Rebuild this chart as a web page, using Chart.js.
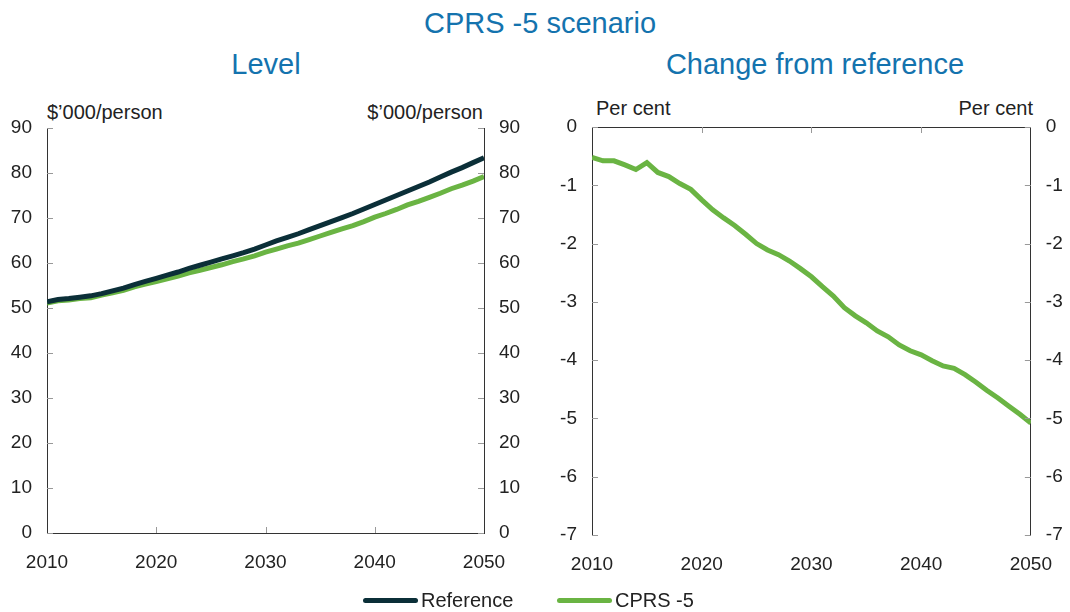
<!DOCTYPE html>
<html lang="en">
<head>
  <meta charset="UTF-8" />
  <title>CPRS -5 scenario</title>
  <script src="https://cdn.jsdelivr.net/npm/chart.js"></script>
  <style>
    body { margin: 0; width: 1070px; height: 612px; background: #fff; position: relative; overflow: hidden;
           font-family: 'Liberation Sans', Arial, sans-serif; color: #222; }
    canvas { position: absolute; top: 0; }
    .t { position: absolute; line-height: 1; white-space: nowrap; }
    .title { font-size: 29px; color: #1473ae; }
    .unit { font-size: 20px; }
    .legend { position: absolute; top: 590px; font-size: 20px; line-height: 1; display: flex; align-items: center; }
    .sw { display: inline-block; width: 55px; height: 5px; border-radius: 3px; margin-right: 3px; }
  </style>
</head>
<body>
  <div class="t title" style="left:0; width:1080px; text-align:center; top:9px;">CPRS -5 scenario</div>
  <div class="t title" style="left:166px; width:200px; text-align:center; top:50px;">Level</div>
  <div class="t title" style="left:615px; width:400px; text-align:center; top:50px;">Change from reference</div>

  <div class="t unit" style="left:47px; top:102px;">$’000/person</div>
  <div class="t unit" style="right:587px; top:102px;">$’000/person</div>
  <div class="t unit" style="left:596px; top:98px;">Per cent</div>
  <div class="t unit" style="right:37px; top:98px;">Per cent</div>

  <canvas id="levelChart" width="535" height="612" style="left:0"></canvas>
  <canvas id="changeChart" width="535" height="612" style="left:535px"></canvas>

  <div class="legend" style="left:363px;"><span class="sw" style="background:#0b2f38"></span>Reference</div>
  <div class="legend" style="left:557px;"><span class="sw" style="background:#6ab443"></span>CPRS -5</div>

  <script>
    const years = [2010, 2011, 2012, 2013, 2014, 2015, 2016, 2017, 2018, 2019,
                   2020, 2021, 2022, 2023, 2024, 2025, 2026, 2027, 2028, 2029,
                   2030, 2031, 2032, 2033, 2034, 2035, 2036, 2037, 2038, 2039,
                   2040, 2041, 2042, 2043, 2044, 2045, 2046, 2047, 2048, 2049, 2050];

    // $'000 per person
    const reference = [51.4, 51.9, 52.1, 52.4, 52.7, 53.2, 53.8, 54.4, 55.2, 55.9,
                       56.6, 57.3, 58.0, 58.8, 59.5, 60.2, 60.9, 61.6, 62.3, 63.1,
                       64.0, 64.9, 65.7, 66.5, 67.4, 68.3, 69.2, 70.1, 71.0, 72.0,
                       73.0, 74.0, 75.0, 76.0, 77.0, 78.0, 79.1, 80.2, 81.2, 82.3, 83.4];
    const cprs5 = [51.1, 51.6, 51.8, 52.1, 52.3, 52.9, 53.4, 53.9, 54.7, 55.3,
                   55.9, 56.5, 57.1, 57.8, 58.4, 59.0, 59.6, 60.3, 60.9, 61.6,
                   62.4, 63.1, 63.8, 64.4, 65.2, 66.0, 66.8, 67.6, 68.3, 69.2,
                   70.2, 71.0, 71.9, 72.9, 73.7, 74.6, 75.5, 76.5, 77.3, 78.2, 79.2];

    // per cent change from reference
    const change = [-0.52, -0.58, -0.58, -0.65, -0.73, -0.61, -0.78, -0.85, -0.97, -1.07,
                    -1.25, -1.42, -1.56, -1.69, -1.84, -2.00, -2.11, -2.19, -2.30, -2.43,
                    -2.57, -2.74, -2.90, -3.10, -3.24, -3.36, -3.50, -3.60, -3.74, -3.84,
                    -3.91, -4.01, -4.10, -4.14, -4.25, -4.38, -4.52, -4.65, -4.79, -4.93, -5.08];

    const DARK = '#0b2f38';
    const GREEN = '#6ab443';

    Chart.defaults.font.family = "'Liberation Sans', Arial, sans-serif";
    Chart.defaults.font.size = 19;
    Chart.defaults.color = '#222';

    const pts = vals => vals.map((v, i) => ({ x: years[i], y: v }));

    // short inward tick marks, plus the zero line for the change panel
    const innerTicks = {
      id: 'innerTicks',
      afterDatasetsDraw(chart, args, opts) {
        const { ctx, chartArea: a, scales } = chart;
        ctx.save();
        if (opts.zeroLine) {
          const zy = Math.round(scales.y.getPixelForValue(0)) + 0.5;
          ctx.strokeStyle = '#333';
          ctx.lineWidth = 1;
          ctx.beginPath();
          ctx.moveTo(a.left, zy); ctx.lineTo(a.right, zy);
          ctx.stroke();
        }
        ctx.strokeStyle = '#999';
        ctx.lineWidth = 1;
        ctx.beginPath();
        scales.y.ticks.forEach(t => {
          const py = Math.round(scales.y.getPixelForValue(t.value)) + 0.5;
          ctx.moveTo(a.left, py); ctx.lineTo(a.left + 6, py);
          ctx.moveTo(a.right, py); ctx.lineTo(a.right - 6, py);
        });
        const baseY = opts.zeroLine ? Math.round(scales.y.getPixelForValue(0)) : a.bottom;
        const dir = opts.zeroLine ? 1 : -1;
        scales.x.ticks.forEach(t => {
          if (t.value === scales.x.min || t.value === scales.x.max) return;
          const px = Math.round(scales.x.getPixelForValue(t.value)) + 0.5;
          ctx.moveTo(px, baseY); ctx.lineTo(px, baseY + dir * 6);
        });
        ctx.stroke();
        ctx.restore();
      }
    };

    function makeChart(id, datasets, yMin, yMax, step, sizes, zeroLine) {
      const yAxis = (pos, w) => ({
        type: 'linear', position: pos, min: yMin, max: yMax,
        ticks: { stepSize: step, padding: 15 },
        grid: { display: false, drawTicks: false },
        border: { display: true, color: '#333', width: 1 },
        afterFit: s => { s.width = w; }
      });
      return new Chart(document.getElementById(id), {
        type: 'line',
        data: { datasets },
        options: {
          responsive: false,
          animation: false,
          devicePixelRatio: 1,
          layout: { padding: { top: sizes.top, bottom: sizes.bottom, left: 0, right: 0 } },
          plugins: { legend: { display: false }, tooltip: { enabled: false }, innerTicks: { zeroLine } },
          elements: { point: { radius: 0 }, line: { borderWidth: 5, tension: 0, borderCapStyle: 'butt' } },
          scales: {
            x: {
              type: 'linear', min: 2010, max: 2050,
              ticks: { stepSize: 10, padding: 18, callback: v => String(v) },
              grid: { display: false, drawTicks: false },
              border: { display: !zeroLine, color: '#333', width: 1 },
              afterFit: s => { s.height = 50; }
            },
            y: yAxis('left', sizes.left),
            y2: yAxis('right', sizes.right)
          }
        },
        plugins: [innerTicks]
      });
    }

    makeChart('levelChart', [
      { label: 'Reference', data: pts(reference), borderColor: DARK, yAxisID: 'y' },
      { label: 'CPRS -5', data: pts(cprs5), borderColor: GREEN, yAxisID: 'y' }
    ], 0, 90, 10, { top: 128, bottom: 29, left: 47, right: 51 }, false);

    makeChart('changeChart', [
      { label: 'CPRS -5', data: pts(change), borderColor: GREEN, yAxisID: 'y' }
    ], -7, 0, 1, { top: 127, bottom: 27, left: 57, right: 36 }, true);
  </script>
</body>
</html>
